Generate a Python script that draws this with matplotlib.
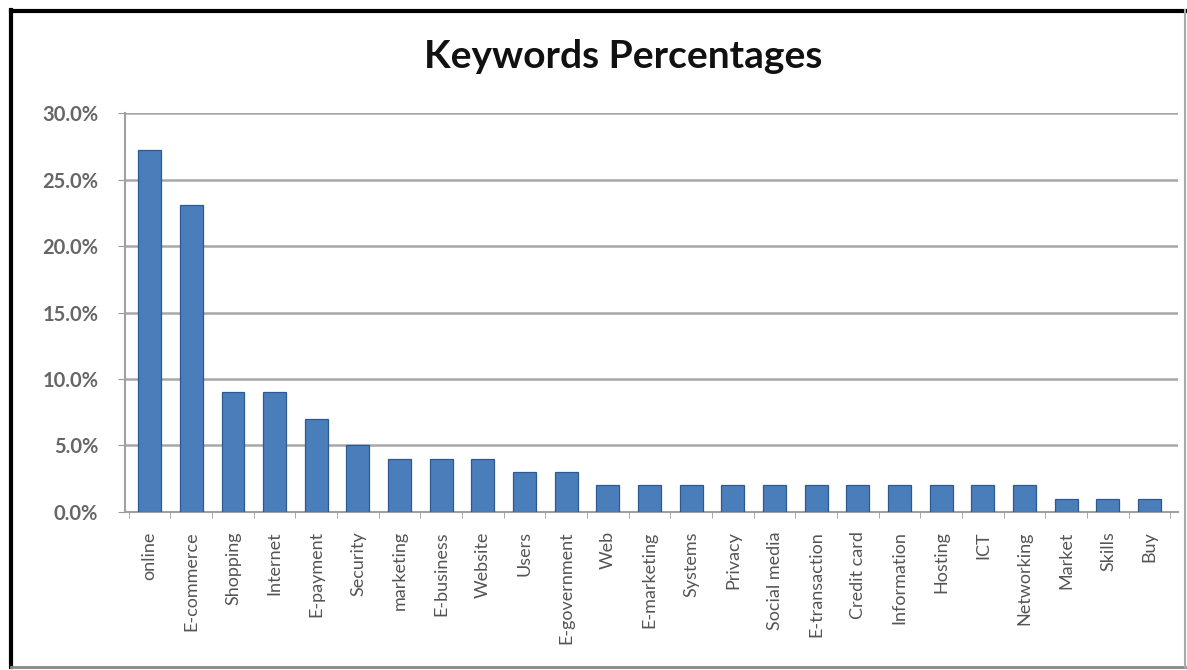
import matplotlib
matplotlib.use("Agg")
import matplotlib.pyplot as plt
from matplotlib.lines import Line2D
import numpy as np

# keyword shares (percent)
keywords = ["online", "E-commerce", "Shopping", "Internet", "E-payment", "Security",
            "marketing", "E-business", "Website", "Users", "E-government", "Web",
            "E-marketing", "Systems", "Privacy", "Social media", "E-transaction",
            "Credit card", "Information", "Hosting", "ICT", "Networking", "Market",
            "Skills", "Buy"]
percentages = [27.2, 23.1, 9.0, 9.0, 7.0, 5.0, 4.0, 4.0, 4.0, 3.0, 3.0, 2.0,
               2.0, 2.0, 2.0, 2.0, 2.0, 2.0, 2.0, 2.0, 2.0, 2.0, 1.0, 1.0, 1.0]
y_ticks = [0, 5, 10, 15, 20, 25, 30]
y_labels = ["0.0%", "5.0%", "10.0%", "15.0%", "20.0%", "25.0%", "30.0%"]

plt.rcParams['font.family'] = ['Lato', 'DejaVu Sans']

fig = plt.figure(figsize=(11.87, 6.70), dpi=100)
fig.patch.set_facecolor("white")
ax = fig.add_axes([0.105, 0.236, 0.887, 0.595])

x = np.arange(len(keywords))
ax.bar(x, percentages, width=0.55, color="#4a7ebb", edgecolor="#2c5a8f",
       linewidth=0.9, zorder=3)

ax.set_xlim(-0.6, len(keywords) - 0.33)
ax.set_ylim(0, 30)
ax.set_yticks(y_ticks)
ax.set_yticklabels(y_labels, fontsize=14.5, fontweight="bold", color="#666666")
ax.yaxis.grid(True, color="#a8a8a8", linewidth=1.8, zorder=0)
ax.set_axisbelow(True)

ax.set_xticks(x)
ax.set_xticklabels(keywords, rotation=90, fontsize=13, color="#555555",
                   va="top", ha="center")
ax.set_xticks(np.arange(-0.5, len(keywords)), minor=True)
ax.tick_params(axis="x", which="major", length=0, pad=14)
ax.tick_params(axis="x", which="minor", length=4, color="#999999", direction="out")
ax.tick_params(axis="y", length=5, color="#999999", pad=14)

for side in ["top", "right"]:
    ax.spines[side].set_visible(False)
ax.spines["left"].set_color("#a0a0a0")
ax.spines["left"].set_linewidth(1.5)
ax.spines["bottom"].set_color("#a0a0a0")
ax.spines["bottom"].set_linewidth(1.5)

fig.text(0.525, 0.916, "Keywords Percentages", ha="center", va="center",
         fontsize=28, fontweight="bold", color="#111111")

# screenshot frame: dark top/left, grey bottom/right
fig.add_artist(Line2D([0.009, 0.009], [0.005, 0.985], color="black", linewidth=3,
                      transform=fig.transFigure))
fig.add_artist(Line2D([0.009, 0.998], [0.984, 0.984], color="black", linewidth=3,
                      transform=fig.transFigure))
fig.add_artist(Line2D([0.009, 0.998], [0.005, 0.005], color="#888888", linewidth=2,
                      transform=fig.transFigure))
fig.add_artist(Line2D([0.998, 0.998], [0.005, 0.985], color="#aaaaaa", linewidth=1.5,
                      transform=fig.transFigure))

fig.savefig("out.png", dpi=100)
